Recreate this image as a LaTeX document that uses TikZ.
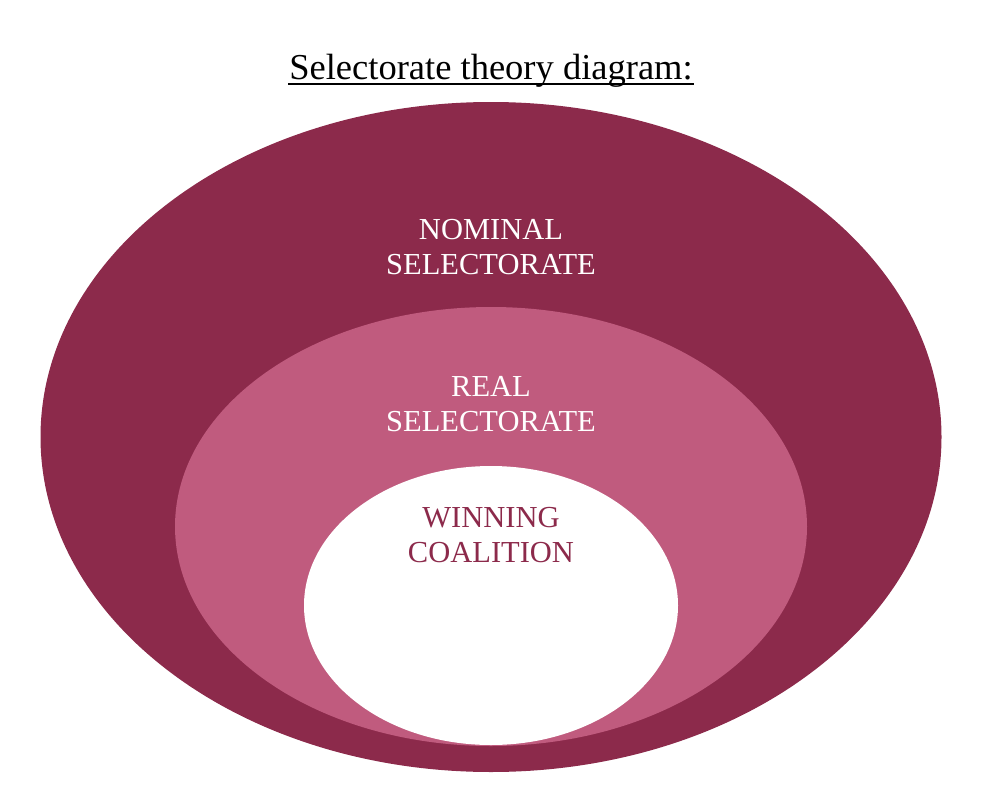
\documentclass[tikz,border=0pt]{standalone}
\usepackage{fontspec}
\setmainfont{Liberation Serif}
\definecolor{outerc}{HTML}{8C2A4B}
\definecolor{midc}{HTML}{C05B7E}
\begin{document}
\begin{tikzpicture}[x=1pt,y=-1pt,
  lbl/.style={align=center,font=\fontsize{30.5}{35}\selectfont,inner sep=0pt}]
\useasboundingbox (0,0) rectangle (982,800);
\fill[outerc] (491,437) ellipse [x radius=450.5, y radius=335];
\fill[midc] (491,526.5) ellipse [x radius=316, y radius=219.5];
\fill[white] (491,605.5) ellipse [x radius=187, y radius=139.5];
\node[inner sep=0pt,font=\fontsize{36.5}{40}\selectfont,anchor=base] (title) at (491,79) {Selectorate theory diagram:};
\coordinate (ul) at (288,83.5);
\coordinate (ur) at (694,83.5);
\draw[line width=2pt] (ul) -- (ur);
\node[lbl,text=white] (nominal) at (491,247) {NOMINAL\\SELECTORATE};
\node[lbl,text=white] (real) at (491,404) {REAL\\SELECTORATE};
\node[lbl,text=outerc] (win) at (491,535) {WINNING\\COALITION};
\end{tikzpicture}
\end{document}
